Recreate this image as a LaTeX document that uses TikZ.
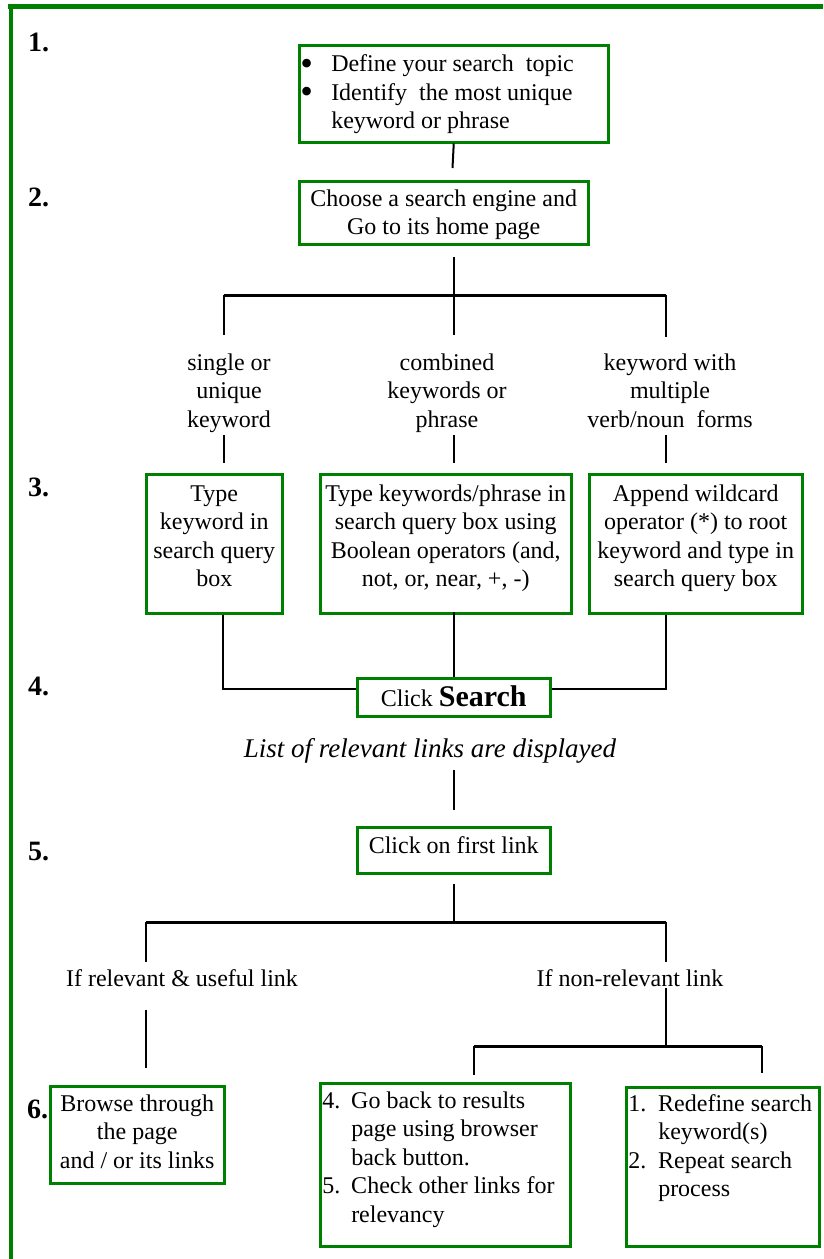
\documentclass[tikz,border=0pt]{standalone}
\usepackage{fontspec}
\usepackage{graphicx}
\setmainfont{Liberation Serif}
\usetikzlibrary{calc}
\definecolor{fgreen}{RGB}{0,128,0}
% box content: width, height, top pad, text
\newcommand{\bx}[4]{\parbox[c][#2][t]{#1}{\vspace*{#3}#4}}
\newcommand{\itm}[2]{\hangindent=#1\hangafter=1\noindent\strut\makebox[#1][l]{\hspace{2pt}#2}}
\newcommand{\bul}{\hspace{-1pt}\raisebox{-3.5pt}[0pt][0pt]{\scalebox{1.5}{•}}}
\begin{document}
\begin{tikzpicture}[x=1pt,y=-1pt,
  font=\fontsize{24}{28.5}\selectfont,
  gbox/.style={draw=fgreen, line width=2.5pt, inner sep=0pt, anchor=north west},
  conn/.style={line width=2pt, black},
  bar/.style={line width=3pt, black},
  num/.style={font=\fontsize{28}{30}\selectfont\bfseries, inner sep=0pt, anchor=base west},
  lbl/.style={inner sep=0pt, anchor=base},
  frame/.style={draw=fgreen}]
\fill[white] (0,0) rectangle (823,1259);
\useasboundingbox (0,0) rectangle (823,1259);
% frame
\draw[frame, line width=5pt] (8,6.5) -- (823,6.5);
\draw[frame, line width=4pt] (11,4) -- (11,1259);

% step numbers
\node[num] (n1) at (28,51.5) {1.};
\node[num] (n2) at (28,206.5) {2.};
\node[num] (n3) at (28,496.5) {3.};
\node[num] (n4) at (28,695) {4.};
\node[num] (n5) at (28,860) {5.};
\node[num] (n6) at (27,1118) {6.};

% boxes
\node[gbox] (b1) at (298,44) {\bx{309pt}{97pt}{6.5pt}{\raggedright
  \itm{32pt}{\bul}Define your search\ \ topic\par
  \itm{32pt}{\bul}Identify\ \ the most unique\newline keyword or phrase\par}};
\node[gbox] (b2) at (298,180) {\bx{289pt}{63pt}{5pt}{\centering\strut Choose a search engine and\\Go to its home page}};

\node[gbox] (b3a) at (145,473) {\bx{136pt}{139pt}{7pt}{\centering\strut Type\\keyword in\\search query\\box}};
\node[gbox] (b3b) at (319,473) {\bx{251pt}{139pt}{7pt}{\centering\strut Type keywords/phrase in\\search query box using\\Boolean operators (and,\\not, or, near, +, -)}};
\node[gbox] (b3c) at (588,473) {\bx{213pt}{139pt}{7pt}{\centering\strut Append wildcard\\operator (*) to root\\keyword and type in\\search query box}};

\node[gbox] (b4) at (356,677) {\bx{193pt}{38pt}{7pt}{\centering\strut Click \textbf{\fontsize{30}{30}\selectfont Search}}};
\node[gbox] (b5) at (356,826) {\bx{193pt}{46pt}{6pt}{\centering\strut Click on first link}};

\node[gbox] (b6a) at (49,1085) {\bx{174pt}{97pt}{5pt}{\centering\strut Browse through\\the page\\and / or its links}};
\node[gbox] (b6b) at (319,1082) {\bx{250pt}{163pt}{5pt}{\raggedright
  \itm{31pt}{4.}Go back to results\newline page using browser\newline back button.\par
  \itm{31pt}{5.}Check other links for\newline relevancy\par}};
\node[gbox] (b6c) at (625,1086) {\bx{193pt}{159pt}{4pt}{\raggedright
  \itm{32pt}{1.}Redefine search\newline keyword(s)\par
  \itm{32pt}{2.}Repeat search\newline process\par}};

% labels
\node[lbl] (l1) at (229,370) {\parbox[t]{200pt}{\centering single or\\unique\\keyword}};
\node[lbl] (l2) at (447,370) {\parbox[t]{200pt}{\centering combined\\keywords or\\phrase}};
\node[lbl] (l3) at (670,370) {\parbox[t]{220pt}{\centering keyword with\\multiple\\verb/noun\ \ forms}};
\node[lbl, font=\fontsize{27}{30}\selectfont\itshape] (lst) at (430,757) {List of relevant links are displayed};
\node[lbl] (r1) at (182,986) {If relevant \& useful link};
\node[lbl] (r2) at (630,986) {If non-relevant link};

% junction coordinates
\coordinate (c1) at (452.5,168);
\coordinate (j0) at (454,257);
\coordinate (j1) at (454,295);
\coordinate (jl) at (224,295);
\coordinate (jr) at (666,295);
\coordinate (dl) at (224,335);
\coordinate (dm) at (454,335);
\coordinate (dr) at (666,337);
\coordinate (ul) at (224,435);
\coordinate (um) at (454,435);
\coordinate (ur) at (666,435);
\coordinate (vl) at (224,463);
\coordinate (vm) at (454,463);
\coordinate (vr) at (666,463);
\coordinate (kl) at (223,689);
\coordinate (kr) at (666,689);
\coordinate (km) at (454,612);
\coordinate (m0) at (454,770);
\coordinate (m1) at (454,810);
\coordinate (p0) at (454,884);
\coordinate (p1) at (454,922);
\coordinate (ql) at (146,922);
\coordinate (qr) at (666,922);
\coordinate (ql2) at (146,962);
\coordinate (qr2) at (666,962);
\coordinate (sl0) at (146,1010);
\coordinate (sl1) at (146,1068);
\coordinate (sr0) at (666,988);
\coordinate (sr1) at (666,1046);
\coordinate (tl) at (474,1046);
\coordinate (tr) at (762,1046);
\coordinate (tl2) at (474,1075);
\coordinate (tr2) at (762,1073);

% connectors
\draw[conn] (b1.south) -- (c1);
\draw[conn] (j0) -- (j1);
\draw[bar] (jl) -- (jr);
\draw[conn] (jl) -- (dl);
\draw[conn] (j1) -- (dm);
\draw[conn] (jr) -- (dr);
\draw[conn] (ul) -- (vl);
\draw[conn] (um) -- (vm);
\draw[conn] (ur) -- (vr);
\draw[conn] (b3a.south -| kl) -- (kl) -- (kl -| b4.west);
\draw[conn] (km) -- (km |- b4.north);
\draw[conn] (b3c.south -| kr) -- (kr) -- (kr -| b4.east);
\draw[conn] (m0) -- (m1);
\draw[conn] (p0) -- (p1);
\draw[bar] (ql) -- (qr);
\draw[conn] (ql) -- (ql2);
\draw[conn] (qr) -- (qr2);
\draw[conn] (sl0) -- (sl1);
\draw[conn] (sr0) -- (sr1);
\draw[bar] (tl) -- (tr);
\draw[conn] (tl) -- (tl2);
\draw[conn] (tr) -- (tr2);
\end{tikzpicture}
\end{document}
